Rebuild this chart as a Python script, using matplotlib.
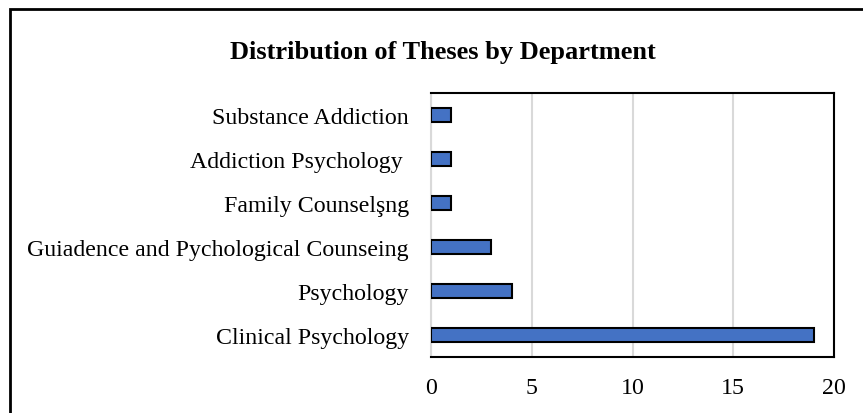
import matplotlib
matplotlib.use('Agg')
import matplotlib.pyplot as plt
from matplotlib.patches import Rectangle

plt.rcParams['font.family'] = ['Liberation Serif', 'DejaVu Serif']

departments = ['Clinical Psychology', 'Psychology',
               'Guiadence and Pychological Counseing', 'Family Counselşng',
               'Addiction Psychology ', 'Substance Addiction']
theses = [19, 4, 3, 1, 1, 1]
xticks = [0, 5, 10, 15, 20]

W, H = 863, 414
fig = plt.figure(figsize=(W / 100, H / 100), dpi=100)
ax = fig.add_axes([431 / W, 1 - 358 / H, (834 - 431) / W, (358 - 94) / H])

ax.barh(range(len(departments)), theses, height=0.32, color='#4472C4',
        edgecolor='black', linewidth=1.5, zorder=3)
ax.set_xlim(0, 20)
ax.set_ylim(-0.5, len(departments) - 0.5)
ax.set_yticks(range(len(departments)))
ax.set_yticklabels(departments)
ax.set_xticks(xticks)
ax.tick_params(axis='both', length=0, labelsize=17.2)
ax.tick_params(axis='y', pad=15.8)
ax.tick_params(axis='x', pad=14.5)
ax.grid(axis='x', color='#d9d9d9', linewidth=1.5, zorder=0)
for s in ['top', 'right', 'bottom']:
    ax.spines[s].set_linewidth(1.5)
    ax.spines[s].set_color('black')
ax.spines['left'].set_color('#d9d9d9')
ax.spines['left'].set_linewidth(1.5)

fig.text(443 / W, 1 - 52 / H, 'Distribution of Theses by Department',
         ha='center', va='center', fontsize=19, fontweight='bold')

# outer frame (right and bottom edges fall outside the picture)
fig.patches.append(Rectangle((10 / W, -0.1), 1.1, 1 - 10 / H + 0.1,
                             transform=fig.transFigure, fill=False,
                             edgecolor='black', linewidth=2))

fig.savefig('out.png', dpi=100)
